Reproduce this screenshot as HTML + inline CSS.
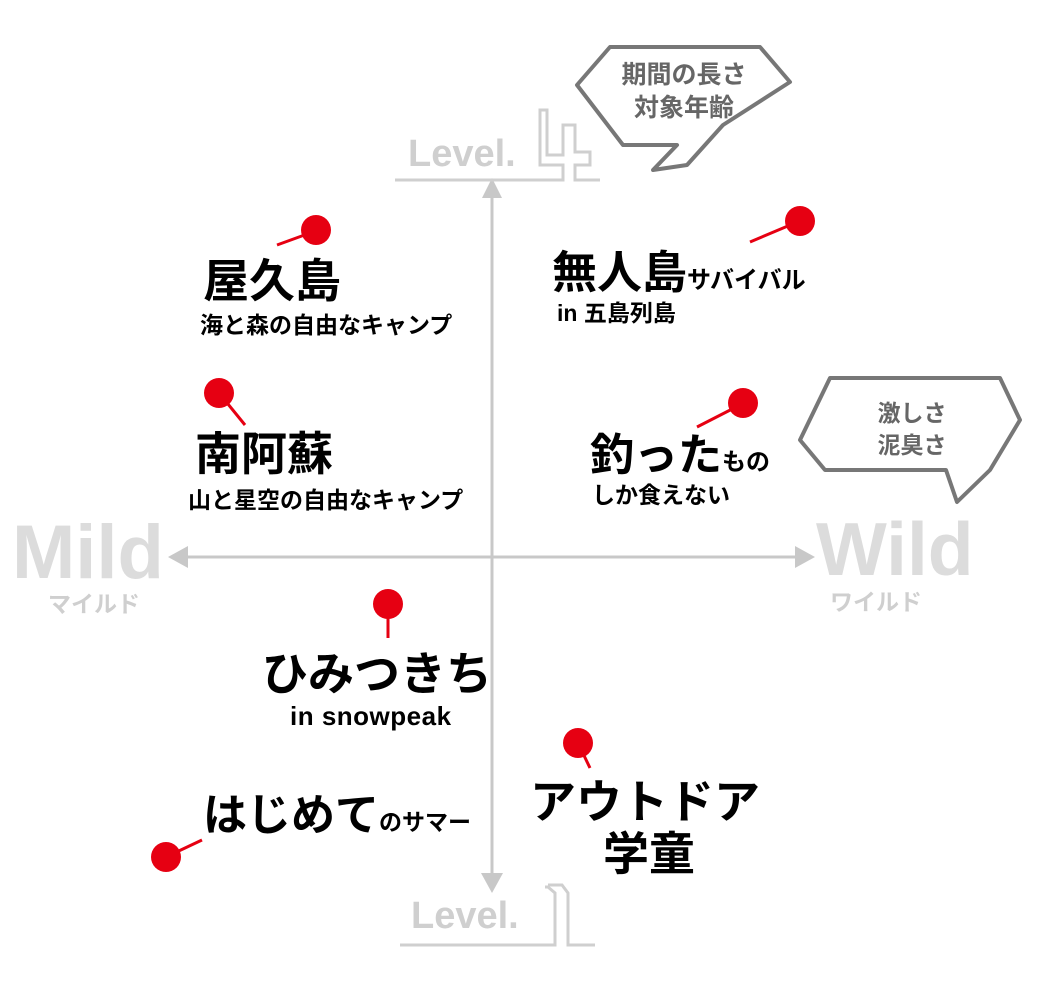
<!DOCTYPE html>
<html><head><meta charset="utf-8"><style>
html,body{margin:0;padding:0;background:#fff;}
svg{display:block;}
text{font-family:"Liberation Sans","Noto Sans CJK JP",sans-serif;font-weight:bold;}
</style></head><body>
<svg width="1040" height="1004" viewBox="0 0 1040 1004" xmlns="http://www.w3.org/2000/svg">
<!-- axes -->
<g stroke="#c8c8c8" stroke-width="3" fill="none">
<line x1="185" y1="557" x2="800" y2="557"/>
<line x1="492" y1="180" x2="492" y2="880"/>
</g>
<g fill="#c8c8c8">
<polygon points="168,557 188,546 188,568"/>
<polygon points="815,557 795,546 795,568"/>
<polygon points="492,178 482,198 502,198"/>
<polygon points="492,893 481,873 503,873"/>
</g>
<!-- Level 4 -->
<polyline points="395,180 563,180 563,165 540,165 540,110 547,110 547,155 563,155 563,125 575,125 575,152 590,152 590,165 575,165 575,180 600,180" stroke="#cfcfcf" stroke-width="3" fill="none"/>
<text x="408" y="166" font-size="38" fill="#cfcfcf">Level.</text>
<!-- Level 1 -->
<g stroke="#cfcfcf" stroke-width="3" fill="none">
<polyline points="400,945 555,945 555,893 548,887 545,887"/>
<polyline points="595,945 568,945 568,893 562,885 548,885"/>
</g>
<text x="411" y="928" font-size="38" fill="#cfcfcf">Level.</text>
<!-- bubbles -->
<polygon points="610,47 760,47 790,82 723,125 687,165 653,170 677,145 623,145 577,85" fill="#fff" stroke="#777" stroke-width="4" stroke-linejoin="round"/>
<text x="684" y="83" font-size="25" fill="#666" text-anchor="middle">期間の長さ</text>
<text x="684" y="116" font-size="25" fill="#666" text-anchor="middle">対象年齢</text>
<polygon points="830,378 1000,378 1020,420 990,470 957,502 946,470 825,470 800,440" fill="#fff" stroke="#777" stroke-width="4" stroke-linejoin="round"/>
<text x="912" y="421" font-size="23" fill="#666" text-anchor="middle">激しさ</text>
<text x="912" y="453" font-size="23" fill="#666" text-anchor="middle">泥臭さ</text>
<!-- Mild/Wild -->
<text x="12" y="578" font-size="76" fill="#dcdcdc">Mild</text>
<text x="48" y="612" font-size="23" fill="#cfcfcf">マイルド</text>
<text x="816" y="575" font-size="75" fill="#dcdcdc">Wild</text>
<text x="830" y="610" font-size="23" fill="#cfcfcf">ワイルド</text>
<!-- pins -->
<g stroke="#e60012" stroke-width="3">
<line x1="277" y1="245" x2="310" y2="233"/>
<line x1="750" y1="242" x2="795" y2="223"/>
<line x1="219" y1="393" x2="245" y2="425"/>
<line x1="697" y1="427" x2="740" y2="405"/>
<line x1="388" y1="604" x2="388" y2="638"/>
<line x1="578" y1="743" x2="590" y2="768"/>
<line x1="166" y1="857" x2="202" y2="840"/>
</g>
<g fill="#e60012">
<circle cx="316" cy="230" r="15"/>
<circle cx="800" cy="221" r="15"/>
<circle cx="219" cy="393" r="15"/>
<circle cx="743" cy="403" r="15"/>
<circle cx="388" cy="604" r="15"/>
<circle cx="578" cy="743" r="15"/>
<circle cx="166" cy="857" r="15"/>
</g>
<!-- labels -->
<g fill="#000">
<text x="203" y="297" font-size="46">屋久島</text>
<text x="200" y="333" font-size="23">海と森の自由なキャンプ</text>
<text x="552" y="288" font-size="45">無人島<tspan font-size="24">サバイバル</tspan></text>
<text x="557" y="321" font-size="23">in 五島列島</text>
<text x="195" y="470" font-size="46">南阿蘇</text>
<text x="188" y="508" font-size="23">山と星空の自由なキャンプ</text>
<text x="590" y="470" font-size="44">釣った<tspan font-size="24">もの</tspan></text>
<text x="592" y="503" font-size="23">しか食えない</text>
<text x="262" y="690" font-size="46">ひみつきち</text>
<text x="290" y="725" font-size="26" letter-spacing="0.5">in snowpeak</text>
<text x="203" y="830" font-size="44">はじめて<tspan font-size="23">のサマー</tspan></text>
<text x="530" y="818" font-size="46">アウトドア</text>
<text x="603" y="870" font-size="46">学童</text>
</g>
</svg>
</body></html>
